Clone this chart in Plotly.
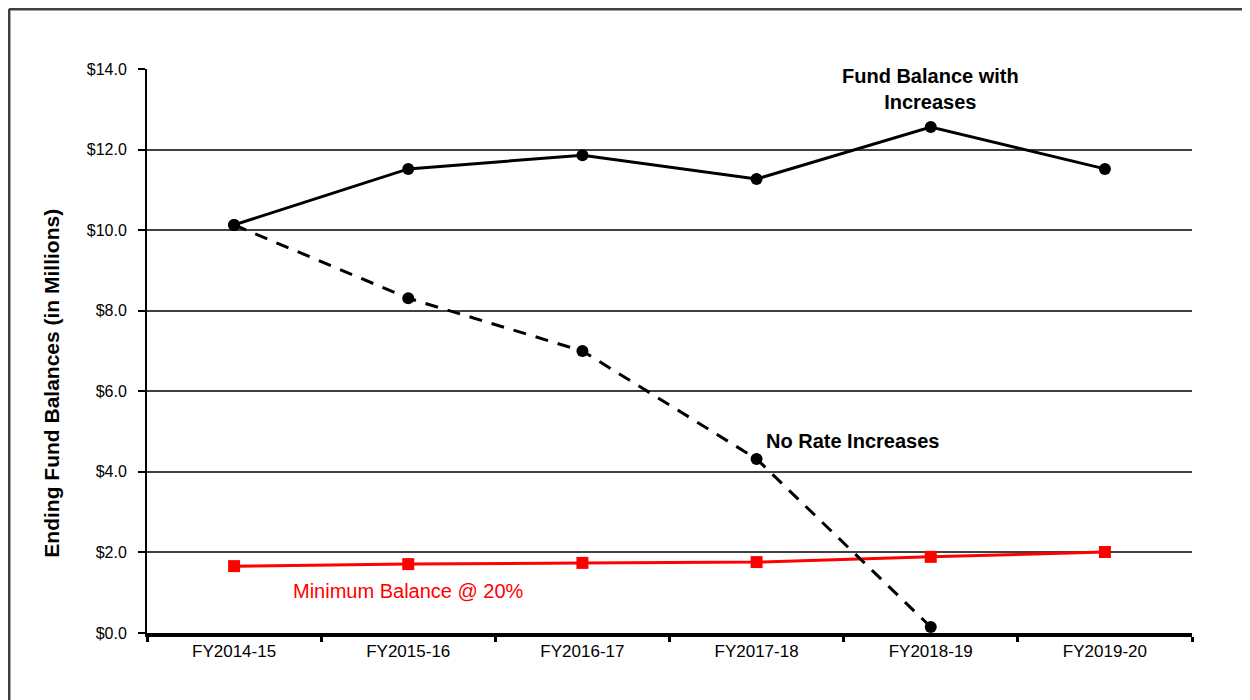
import plotly.graph_objects as go

years = ["FY2014-15", "FY2015-16", "FY2016-17", "FY2017-18", "FY2018-19", "FY2019-20"]
with_increases = [10.13, 11.52, 11.86, 11.27, 12.56, 11.52]
no_increases = [10.13, 8.31, 7.00, 4.32, 0.15]
minimum_balance = [1.66, 1.71, 1.74, 1.76, 1.89, 2.01]

FONT = "Liberation Sans, Arial, sans-serif"

fig = go.Figure()
fig.add_trace(go.Scatter(
    x=years, y=minimum_balance, mode="lines+markers",
    line=dict(color="#ff0000", width=3),
    marker=dict(symbol="square", size=12, color="#ff0000"),
    name="Minimum Balance @ 20%",
))
fig.add_trace(go.Scatter(
    x=years[:len(no_increases)], y=no_increases, mode="lines+markers",
    line=dict(color="black", width=3, dash="13px,10px"),
    marker=dict(symbol="circle", size=12, color="black"),
    name="No Rate Increases",
))
fig.add_trace(go.Scatter(
    x=years, y=with_increases, mode="lines+markers",
    line=dict(color="black", width=3),
    marker=dict(symbol="circle", size=12, color="black"),
    name="Fund Balance with Increases",
))

fig.add_annotation(x=4, y=13.5, text="<b>Fund Balance with<br>Increases</b>", showarrow=False,
                   font=dict(family=FONT, size=20, color="black"))
fig.add_annotation(x=3.04, y=4.77, text="<b>No Rate Increases</b>", showarrow=False,
                   xanchor="left", font=dict(family=FONT, size=20, color="black"))
fig.add_annotation(x=1.0, y=1.04, text="Minimum Balance @ 20%", showarrow=False,
                   font=dict(family=FONT, size=20, color="#ff0000"))
fig.add_annotation(xref="paper", yref="paper", x=-0.1043, y=0.443,
                   text="<b>Ending Fund Balances (in Millions)</b>", textangle=-90,
                   showarrow=False, font=dict(family=FONT, size=21, color="black"))

# outer frame of the source image (top, left and right edges)
frame = dict(xref="paper", yref="paper", type="line", layer="below")
fig.add_shape(x0=-0.1321, x1=1.0536, y0=1.1064, y1=1.1064,
              line=dict(color="#404040", width=3), **frame)
fig.add_shape(x0=-0.1321, x1=-0.1321, y0=-0.3, y1=1.1064,
              line=dict(color="#404040", width=3), **frame)
fig.add_shape(x0=1.0536, x1=1.0536, y0=-0.3, y1=1.1064,
              line=dict(color="#d0d0d0", width=1), **frame)

fig.update_layout(
    width=1250, height=700,
    margin=dict(l=139, r=66, t=61, b=75),
    paper_bgcolor="white", plot_bgcolor="white",
    showlegend=False,
    font=dict(family=FONT, color="black"),
)
fig.update_xaxes(
    type="category", range=[-0.5, 5.5],
    showline=True, linecolor="black", linewidth=4,
    ticks="outside", tickson="boundaries", ticklen=5, tickwidth=3, tickcolor="black",
    showgrid=False, tickfont=dict(size=17, family=FONT),
)
fig.update_yaxes(
    range=[0, 14], dtick=2, tickformat="$.1f",
    showline=True, linecolor="black", linewidth=2,
    ticks="outside", ticklen=7, tickwidth=1.5, tickcolor="black",
    ticklabelstandoff=8,
    showgrid=True, gridcolor="#404040", gridwidth=1.5,
    zeroline=False, tickfont=dict(size=16, family=FONT),
)

fig.write_html("out.html")
